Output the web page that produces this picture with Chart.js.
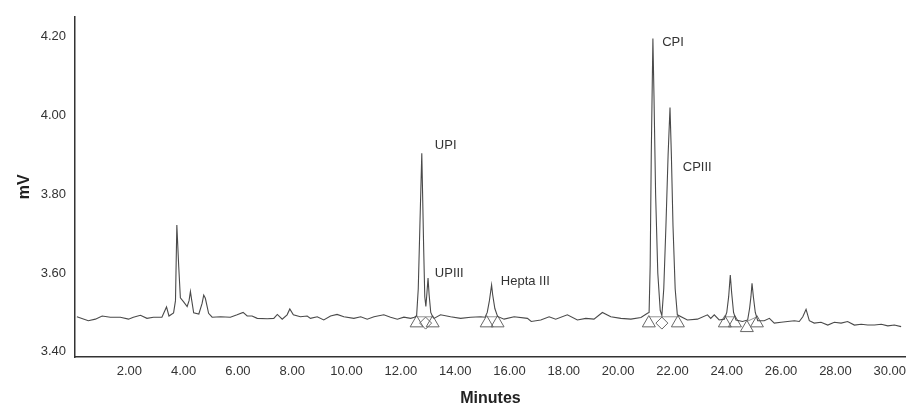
<!DOCTYPE html>
<html>
<head>
<meta charset="utf-8">
<script src="https://cdn.jsdelivr.net/npm/chart.js@4"></script>
<style>
  html, body { margin: 0; padding: 0; background: #fff; overflow: hidden; }
  canvas { display: block; }
</style>
</head>
<body>
<canvas id="chroma" width="906" height="413"></canvas>
<script>
// detector trace (minutes, mV)
const traceMinutes = [
  0.07, 0.49, 0.75, 1.00, 1.30, 1.67, 1.97, 2.15, 2.41, 2.65, 2.89, 3.20, 3.37, 3.46, 3.63, 3.70,
  3.75, 3.82, 3.88, 4.00, 4.13, 4.20, 4.25, 4.30, 4.37, 4.56, 4.68, 4.74, 4.80, 4.92, 5.05, 5.36,
  5.72, 5.97, 6.19, 6.34, 6.52, 6.71, 7.08, 7.32, 7.45, 7.63, 7.81, 7.91, 8.04, 8.30, 8.55, 8.67,
  8.92, 9.16, 9.41, 9.65, 9.90, 10.27, 10.52, 10.76, 11.01, 11.37, 11.62, 11.87, 12.11, 12.36,
  12.50, 12.58, 12.64, 12.70, 12.77, 12.80, 12.84, 12.88, 12.92, 12.96, 13.00, 13.04, 13.10, 13.17,
  13.22, 13.46, 13.83, 14.20, 14.57, 14.94, 15.10, 15.18, 15.26, 15.34, 15.38, 15.46, 15.56, 15.80,
  16.17, 16.66, 16.80, 17.15, 17.46, 17.70, 18.13, 18.50, 18.81, 19.11, 19.42, 19.73, 20.10, 20.47,
  20.84, 21.08, 21.14, 21.18, 21.22, 21.28, 21.32, 21.38, 21.46, 21.55, 21.61, 21.68, 21.76, 21.84,
  21.91, 21.96, 22.02, 22.10, 22.18, 22.55, 22.92, 23.29, 23.41, 23.54, 23.72, 23.91, 24.00, 24.07,
  24.13, 24.18, 24.25, 24.34, 24.58, 24.77, 24.84, 24.89, 24.93, 24.98, 25.05, 25.14, 25.38, 25.57,
  25.75, 26.00, 26.24, 26.49, 26.67, 26.80, 26.92, 27.04, 27.22, 27.47, 27.72, 27.96, 28.21, 28.45,
  28.70, 28.95, 29.19, 29.44, 29.69, 29.93, 30.17, 30.42
];
const traceMv = [
  3.489, 3.479, 3.483, 3.491, 3.488, 3.488, 3.483, 3.488, 3.493, 3.485, 3.488, 3.488, 3.514, 3.491, 3.499, 3.530,
  3.722, 3.616, 3.537, 3.527, 3.515, 3.530, 3.553, 3.530, 3.499, 3.496, 3.523, 3.544, 3.536, 3.498, 3.488, 3.489,
  3.488, 3.494, 3.500, 3.491, 3.491, 3.485, 3.484, 3.485, 3.495, 3.483, 3.494, 3.509, 3.494, 3.489, 3.491, 3.485,
  3.489, 3.481, 3.491, 3.495, 3.489, 3.485, 3.489, 3.483, 3.489, 3.494, 3.488, 3.483, 3.488, 3.485,
  3.488, 3.492, 3.560, 3.720, 3.904, 3.800, 3.660, 3.540, 3.515, 3.550, 3.587, 3.545, 3.500, 3.489,
  3.485, 3.494, 3.489, 3.485, 3.488, 3.489, 3.488, 3.500, 3.530, 3.570, 3.545, 3.510, 3.490, 3.483,
  3.489, 3.485, 3.477, 3.481, 3.489, 3.483, 3.494, 3.481, 3.485, 3.483, 3.500, 3.489, 3.485, 3.483,
  3.487, 3.498, 3.500, 3.620, 3.900, 4.195, 4.050, 3.800, 3.600, 3.505, 3.492, 3.560, 3.720, 3.900,
  4.020, 3.900, 3.720, 3.560, 3.494, 3.481, 3.483, 3.494, 3.485, 3.494, 3.481, 3.483, 3.500, 3.540,
  3.595, 3.550, 3.500, 3.481, 3.477, 3.481, 3.510, 3.540, 3.574, 3.540, 3.500, 3.479, 3.479, 3.485,
  3.473, 3.475, 3.477, 3.479, 3.477, 3.489, 3.508, 3.479, 3.473, 3.475, 3.468, 3.475, 3.473, 3.477,
  3.468, 3.470, 3.468, 3.468, 3.470, 3.466, 3.468, 3.464
];

// integration marks at the peak bases
const triangleMinutes = [12.58, 13.17, 15.16, 15.56, 21.13, 22.20, 23.93, 24.30, 24.74, 25.11];
const triangleMv = [3.473, 3.473, 3.473, 3.473, 3.473, 3.473, 3.473, 3.473, 3.461, 3.473];
const diamondMinutes = [12.91, 21.61];
const diamondMv = [3.473, 3.473];

// peak base lines (null breaks between peaks)
const baseMinutes = [12.58, 13.17, null, 15.16, 15.56, null, 21.13, 22.20, null, 23.93, 24.30, null, 24.74, 25.11];
const baseMv = [3.489, 3.489, null, 3.489, 3.489, null, 3.489, 3.489, null, 3.489, 3.489, null, 3.477, 3.489];

// peak names
const peakNames = ['UPI', 'UPIII', 'Hepta III', 'CPI', 'CPIII'];
const peakNameMinutes = [13.25, 13.25, 15.68, 21.62, 22.38];
const peakNameMv = [3.924, 3.600, 3.579, 4.185, 3.868];

const xTicks = [2, 4, 6, 8, 10, 12, 14, 16, 18, 20, 22, 24, 26, 28, 30];
const yTicks = [3.40, 3.60, 3.80, 4.00, 4.20];

const FONT = "'Liberation Sans Narrow', 'Liberation Sans', Arial, sans-serif";
const INK = '#333';

const toPoints = (xs, ys) => xs.map((x, i) => (x === null ? { x: NaN, y: null } : { x: x, y: ys[i] }));

const peakLabels = {
  id: 'peakLabels',
  afterDatasetsDraw(chart) {
    const { ctx, scales } = chart;
    ctx.save();
    ctx.font = '13px ' + FONT;
    ctx.fillStyle = INK;
    ctx.textAlign = 'left';
    ctx.textBaseline = 'middle';
    peakNames.forEach((name, i) => {
      ctx.fillText(name, scales.x.getPixelForValue(peakNameMinutes[i]), scales.y.getPixelForValue(peakNameMv[i]));
    });
    ctx.restore();
  }
};

new Chart(document.getElementById('chroma'), {
  type: 'scatter',
  data: {
    datasets: [
      {
        data: toPoints(traceMinutes, traceMv),
        showLine: true,
        borderColor: '#4a4a4a',
        borderWidth: 1.1,
        pointRadius: 0,
        tension: 0
      },
      {
        data: toPoints(baseMinutes, baseMv),
        showLine: true,
        spanGaps: false,
        borderColor: '#777',
        borderWidth: 0.8,
        pointRadius: 0
      },
      {
        data: toPoints(triangleMinutes, triangleMv),
        pointStyle: 'triangle',
        pointRadius: 7.5,
        borderColor: '#666',
        borderWidth: 1,
        backgroundColor: 'rgba(255,255,255,0)'
      },
      {
        data: toPoints(diamondMinutes, diamondMv),
        pointStyle: 'rectRot',
        pointRadius: 6,
        borderColor: '#666',
        borderWidth: 1,
        backgroundColor: 'rgba(255,255,255,0)'
      }
    ]
  },
  options: {
    responsive: false,
    animation: false,
    layout: { autoPadding: false, padding: { top: 16, right: 0, left: 0, bottom: 0 } },
    plugins: { legend: { display: false }, tooltip: { enabled: false } },
    scales: {
      x: {
        type: 'linear',
        min: 0,
        max: 30.6,
        afterBuildTicks: (scale) => { scale.ticks = xTicks.map(v => ({ value: v })); },
        afterFit: (scale) => {
          scale.height = 56;
          scale.paddingLeft = 0;
          scale.paddingRight = 0;
        },
        grid: { display: false, drawTicks: false },
        border: { display: true, color: INK, width: 1.5 },
        ticks: {
          padding: 7,
          color: INK,
          font: { family: FONT, size: 13 },
          maxRotation: 0,
          callback: (v) => Number(v).toFixed(2)
        },
        title: {
          display: true,
          text: 'Minutes',
          color: '#222',
          font: { family: FONT, size: 16, weight: 'bold' },
          padding: { top: 4, bottom: 5 }
        }
      },
      y: {
        min: 3.387,
        max: 4.25,
        afterBuildTicks: (scale) => { scale.ticks = yTicks.map(v => ({ value: v })); },
        afterFit: (scale) => { scale.width = 75; },
        grid: { display: false, drawTicks: false },
        border: { display: true, color: INK, width: 1.5 },
        ticks: {
          padding: 9,
          color: INK,
          font: { family: FONT, size: 13 },
          callback: (v) => Number(v).toFixed(2)
        },
        title: {
          display: true,
          text: 'mV',
          color: '#222',
          font: { family: FONT, size: 16, weight: 'bold' },
          padding: { top: 15, bottom: 0 }
        }
      }
    }
  },
  plugins: [peakLabels]
});
</script>
</body>
</html>
